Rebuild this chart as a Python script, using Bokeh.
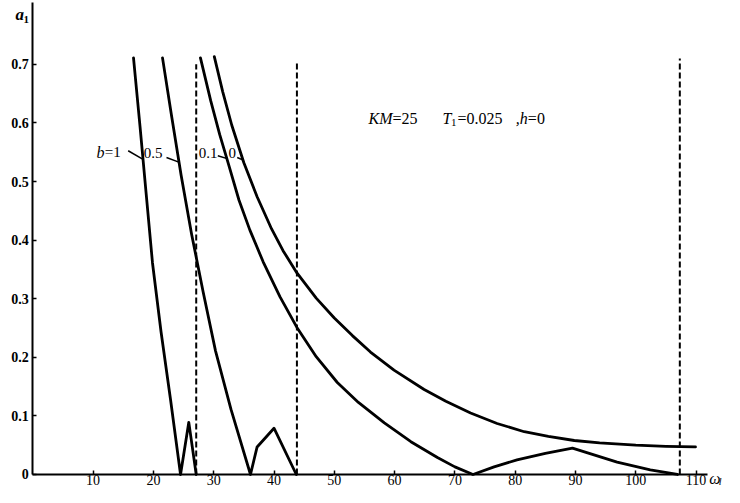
from bokeh.plotting import figure
from bokeh.models import Range1d, FixedTicker, Label
from bokeh.embed import file_html
from bokeh.resources import INLINE

# ---- data ----
w_b1 = [16.70, 17.78, 18.81, 19.85, 21.26, 22.84, 24.50, 25.87, 27.10]
a_b1 = [0.711, 0.594, 0.478, 0.361, 0.244, 0.128, 0.0, 0.089, 0.0]

w_b05 = [21.51, 23.03, 24.59, 26.32, 28.26, 30.30, 32.87, 36.10, 37.2, 40.0, 43.7]
a_b05 = [0.711, 0.611, 0.511, 0.411, 0.311, 0.211, 0.111, 0.0, 0.047, 0.079, 0.0]

w_b01 = [27.8, 29.5, 31.0, 32.5, 34.2, 36.0, 38.2, 41.0, 43.8, 47.0, 50.5, 54.0,
         58.3, 62.7, 67.1, 70.0, 73.0,
         76.5, 80.3, 85.0, 89.5, 96.9, 102.4, 106.9]
a_b01 = [0.711, 0.638, 0.580, 0.528, 0.468, 0.417, 0.363, 0.303, 0.251, 0.201, 0.157, 0.123,
         0.088, 0.056, 0.029, 0.013, 0.0,
         0.013, 0.025, 0.036, 0.045, 0.021, 0.008, 0.0]

w_b0 = [30.1, 31.5, 33.0, 35.0, 37.2, 39.6, 41.5, 43.8, 47.0, 50.0, 53.0, 56.0,
        59.9, 64.9, 68.5, 72.6, 77.0, 81.5, 85.5, 89.8, 94.0, 100.0, 105.0, 109.9]
a_b0 = [0.713, 0.653, 0.596, 0.532, 0.474, 0.419, 0.382, 0.344, 0.301, 0.267, 0.237, 0.209,
        0.178, 0.145, 0.125, 0.105, 0.087, 0.073, 0.065, 0.058, 0.054, 0.050, 0.048, 0.047]

dash_w = [27.1, 43.8, 107.3]
dash_top = [0.700, 0.705, 0.710]

x_ticks = [10, 20, 30, 40, 50, 60, 70, 80, 90, 100, 110]
x_tick_labels = ["10", "20", "30", "40", "50", "60", "70", "80", "90", "100", "110"]
y_ticks = [0, 0.1, 0.2, 0.3, 0.4, 0.5, 0.6, 0.7]
y_tick_labels = ["0", "0.1", "0.2", "0.3", "0.4", "0.5", "0.6", "0.7"]

curve_labels = ["=1", "0.5", "0.1", "0"]
annotation_parts = ["KM", "=25", "T", "1", "=0.025", ",h", "=0"]

SERIF = "Liberation Serif"

p = figure(width=724, height=487,
           x_range=Range1d(-5.357, 114.71), y_range=Range1d(-0.0222, 0.8089),
           output_backend="svg", toolbar_location=None,
           min_border_left=0, min_border_right=0, min_border_top=0, min_border_bottom=0)
p.outline_line_color = None
p.grid.visible = False
p.background_fill_color = "white"
p.border_fill_color = "white"

# axes drawn through the origin
p.xaxis.fixed_location = 0
p.yaxis.fixed_location = 0
p.xaxis.bounds = (0, 111.9)
p.yaxis.bounds = (0, 0.806)
p.xaxis.ticker = FixedTicker(ticks=x_ticks)
p.xaxis.major_label_overrides = {t: l for t, l in zip(x_ticks, x_tick_labels)}
p.yaxis.ticker = FixedTicker(ticks=y_ticks)
p.yaxis.major_label_overrides = {t: l for t, l in zip(y_ticks, y_tick_labels)}
for ax in (p.xaxis, p.yaxis):
    ax.axis_line_width = 2
    ax.axis_line_color = "black"
    ax.major_tick_in = 4
    ax.major_tick_out = 0
    ax.major_tick_line_width = 1.5
    ax.minor_tick_line_color = None
    ax.major_label_text_font = SERIF
    ax.major_label_text_color = "black"
p.xaxis.major_label_text_font_size = "14px"
p.xaxis.major_label_standoff = 1
p.yaxis.major_label_text_font_size = "14px"
p.yaxis.major_label_text_font_style = "bold"
p.yaxis.major_label_standoff = 4

# curves
for w, a in ((w_b1, a_b1), (w_b05, a_b05), (w_b01, a_b01), (w_b0, a_b0)):
    p.line(w, a, line_color="black", line_width=2.8, line_join="round", line_cap="round")

# dashed verticals
p.segment(x0=dash_w, y0=[0] * len(dash_w), x1=dash_w, y1=dash_top,
          line_color="black", line_width=2, line_dash="6 3")

# leader lines for curve labels
p.segment(x0=[15.82, 22.17, 30.68, 33.9], y0=[0.5525, 0.541, 0.544, 0.541],
          x1=[18.14, 24.21, 32.24, 35.0], y1=[0.5387, 0.533, 0.539, 0.536],
          line_color="black", line_width=1.5)


def lab(x, y, text, size="15px", style="normal", baseline="middle"):
    p.add_layout(Label(x=x, y=y, text=text, text_font=SERIF, text_font_size=size,
                       text_font_style=style, text_baseline=baseline, text_align="left",
                       text_color="black"))


# curve labels
lab(10.55, 0.55, "b", "16px", "italic")
lab(11.95, 0.55, curve_labels[0], "15px")
lab(18.41, 0.548, curve_labels[1], "15px")
lab(27.53, 0.548, curve_labels[2], "15px")
lab(32.45, 0.548, curve_labels[3], "15px")

# parameter annotation
ay = 0.608
lab(55.67, ay, annotation_parts[0], "16px", "italic")
lab(59.65, ay, annotation_parts[1], "16px")
lab(67.95, ay, annotation_parts[2], "16px", "italic")
lab(69.35, ay - 0.008, annotation_parts[3], "11px")
lab(70.43, ay, annotation_parts[4], "16px")
lab(80.1, ay, annotation_parts[5], "16px", "italic")
lab(82.1, ay, annotation_parts[6], "16px")

# axis titles
lab(-2.87, 0.785, "a", "17px", "bold italic")
lab(-1.55, 0.7765, "1", "11px", "bold")
lab(112.2, -0.007, "ω", "16px", "italic")
lab(113.75, -0.012, "l", "10px", "italic")

open("out.html", "w").write(file_html(p, INLINE))
